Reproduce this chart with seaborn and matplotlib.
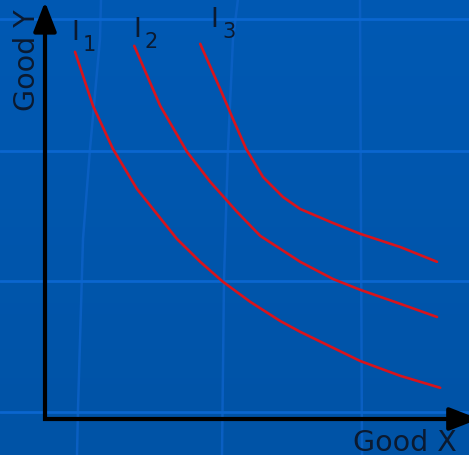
import numpy as np
import pandas as pd
import matplotlib.pyplot as plt
import seaborn as sns

# curvas de indiferença (unidades de Good X, Good Y)
i1_x = [0.75, 1.20, 1.70, 2.30, 3.30, 3.88, 4.45, 5.13, 5.88, 6.38, 7.88, 8.88, 9.88]
i1_y = [9.18, 7.83, 6.75, 5.75, 4.50, 3.93, 3.43, 2.93, 2.45, 2.18, 1.45, 1.08, 0.78]

i2_x = [2.23, 2.88, 3.55, 4.13, 4.80, 5.38, 6.38, 7.20, 7.88, 8.88, 9.80]
i2_y = [9.33, 7.83, 6.68, 5.93, 5.18, 4.58, 3.93, 3.50, 3.23, 2.88, 2.55]

i3_x = [3.88, 4.38, 4.70, 5.03, 5.45, 5.95, 6.38, 7.20, 7.88, 8.88, 9.80]
i3_y = [9.38, 8.25, 7.50, 6.75, 6.05, 5.55, 5.25, 4.90, 4.63, 4.30, 3.93]

nomes = ["1", "2", "3"]
rotulo_x = [0.75, 2.30, 4.24]
rotulo_y = [9.68, 9.76, 10.01]

df = pd.concat([
    pd.DataFrame({"x": i1_x, "y": i1_y, "curva": "I1"}),
    pd.DataFrame({"x": i2_x, "y": i2_y, "curva": "I2"}),
    pd.DataFrame({"x": i3_x, "y": i3_y, "curva": "I3"}),
])

sns.set_style("white")
plt.rcParams['font.family'] = ['DejaVu Sans']

fundo = "#0056ab"
cor_grade = "#0b66cf"
cor_grade_v = "#0a5fc2"
cor_texto = "#0b1a30"

fig = plt.figure(figsize=(4.69, 4.56), dpi=100, facecolor=fundo)
ax = fig.add_axes([0, 0, 1, 1])

# escala: 40 px por unidade, origem em (45, 420) px
xlim = (-45 / 40, (469 - 45) / 40)
ylim = (-(456 - 420) / 40, 420 / 40)
ax.set_xlim(xlim)
ax.set_ylim(ylim)

# fundo em degradê suave
grad = np.linspace(0, 1, 256).reshape(-1, 1)
ax.imshow(grad, extent=(*xlim, *ylim), aspect="auto", origin="lower", zorder=0,
          cmap=plt.matplotlib.colors.LinearSegmentedColormap.from_list("f", ["#0053a6", "#0059b3"]))

# grade horizontal
ax.set_yticks([10.0, 6.7, 3.45, 0.175])
ax.set_xticks([])
ax.grid(True, axis="y", color=cor_grade, lw=2.0)
ax.set_axisbelow(False)
ax.tick_params(left=False, labelleft=False, bottom=False, labelbottom=False)
for s in ax.spines.values():
    s.set_visible(False)

# grade vertical (levemente inclinada)
for px, py in [([101, 100, 90, 83, 78, 77], [0, 40, 150, 240, 410, 456]),
               ([238, 233, 228, 224, 222], [0, 40, 150, 280, 456]),
               ([360, 362], [0, 456])]:
    ax.plot(np.array(px) / 469, 1 - np.array(py) / 456, transform=ax.transAxes,
            color=cor_grade_v, lw=1.8, zorder=1)

sns.lineplot(data=df, x="x", y="y", hue="curva", sort=False, estimator=None,
             palette=["#d8141c"] * 3, lw=1.9, legend=False, ax=ax, zorder=3)
ax.set_xlabel("")
ax.set_ylabel("")

# eixos com setas
ax.plot([0, 0, 10.5], [10.1, 0, 0], color="black", lw=3,
        solid_joinstyle="miter", solid_capstyle="butt", zorder=4)
seta = dict(arrowstyle="-|>,head_length=0.9,head_width=0.35", color="black",
            lw=3, mutation_scale=20, shrinkA=0, shrinkB=0)
ax.annotate("", xy=(0, 10.43), xytext=(0, 9.8), arrowprops=seta, zorder=4)
ax.annotate("", xy=(10.85, 0), xytext=(10.2, 0), arrowprops=seta, zorder=4,
            annotation_clip=False)

ax.text(9.0, -0.57, "Good X", fontsize=20.5, color=cor_texto, ha="center", va="center")
ax.text(-0.45, 9.0, "Good Y", fontsize=20.5, color=cor_texto, ha="center", va="center",
        rotation=90)

for nome, lx, ly in zip(nomes, rotulo_x, rotulo_y):
    ax.text(lx, ly, "I", fontsize=19, color=cor_texto, ha="center", va="center")
    ax.text(lx + 0.36, ly - 0.30, nome, fontsize=15, color=cor_texto, ha="center", va="center")

plt.savefig("out.png", dpi=100, facecolor=fundo)
